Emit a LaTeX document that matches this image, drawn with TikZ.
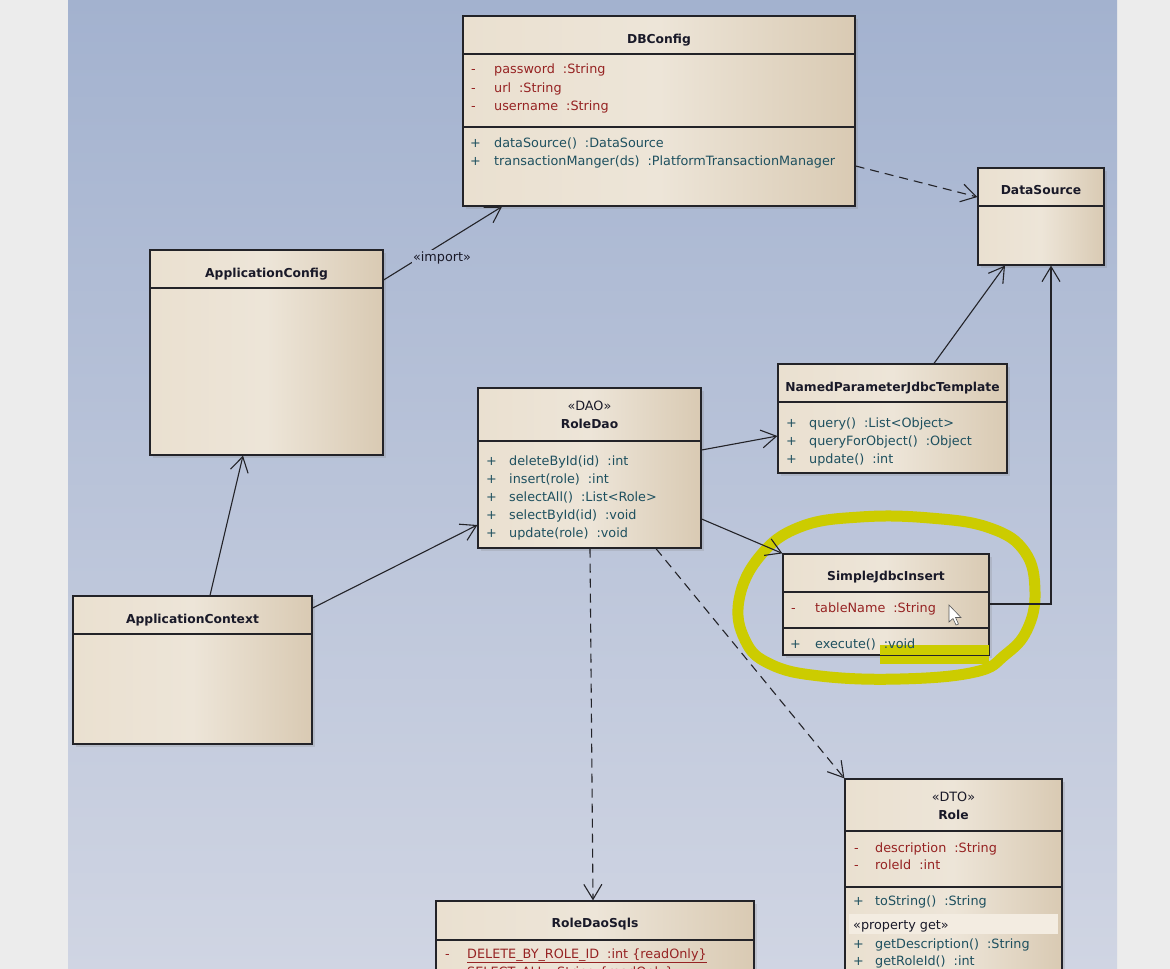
\documentclass[tikz,border=0pt]{standalone}
\usepackage{fontspec}
\setmainfont{DejaVu Sans}
\usepackage{tikz}
\usetikzlibrary{arrows.meta,shapes,positioning,fit,shadows,calc}
\usepackage{xcolor}
\definecolor{PageG}  {RGB}{236,236,236}
\definecolor{BgTop}  {RGB}{163,178,207}
\definecolor{BgMid}  {RGB}{175,187,212}
\definecolor{BgBot}  {RGB}{208,213,227}
\definecolor{BoxL}   {RGB}{234,224,208}
\definecolor{BoxM}   {RGB}{237,229,216}
\definecolor{BoxR}   {RGB}{217,202,179}
\definecolor{BandC}  {RGB}{243,236,225}
\definecolor{LineK}  {RGB}{35,  35,  40}
\definecolor{TitleK} {RGB}{25,  25,  40}
\definecolor{AttrR}  {RGB}{150, 35,  35}
\definecolor{MethT}  {RGB}{30,  80,  95}
\definecolor{HiYlw}  {RGB}{204,204,   0}
\newcommand{\tgap}{\hspace{8pt}}

\begin{document}
\begin{tikzpicture}[x=1pt,y=-1pt,
    cls/.style={draw=LineK,line width=1.2pt,inner sep=0pt,
      left color=BoxL,right color=BoxR,middle color=BoxM,
      drop shadow={shadow xshift=3pt,shadow yshift=-3pt,opacity=0.22}},
    sep/.style={draw=LineK,line width=1.2pt},
    ttl/.style={anchor=base,inner sep=0pt,text=TitleK,
      font=\fontsize{12.3}{14}\selectfont\bfseries},
    ster/.style={anchor=base,inner sep=0pt,text=TitleK,
      font=\fontsize{12.8}{14}\selectfont},
    attr/.style={anchor=base west,inner sep=0pt,text=AttrR,
      font=\fontsize{12.8}{14}\selectfont},
    meth/.style={anchor=base west,inner sep=0pt,text=MethT,
      font=\fontsize{12.8}{14}\selectfont},
    assoc/.style={draw=LineK,line width=1.1pt,
      -{Straight Barb[length=15pt,width=18pt]}},
    dep/.style={assoc,dash pattern=on 9pt off 6pt}]
  % page and canvas
  \useasboundingbox (0,0) rectangle (1170,969);
  \clip (0,0) rectangle (1170,969);
  \fill[PageG] (0,0) rectangle (1170,969);
  \shade[top color=BgTop,bottom color=BgBot] (68,0) rectangle (1117,969);

  % hand drawn highlight
  \draw[HiYlw,line width=11pt,line cap=round,line join=round]
    plot[smooth cycle,tension=0.7] coordinates {(760,556) (800,527) (860,517)
      (930,518) (990,528) (1025,552) (1035,592) (1027,630) (1005,655)
      (975,672) (900,679) (820,676) (770,664) (745,640) (739,600)};

  % DBConfig
  \node[cls,fit={(463,16) (855,206)}] (dbc) {};
  \node[ttl] (dbcT) at (659,43) {DBConfig};
  \draw[sep] (dbc.west |- 0,54) -- (dbc.east |- 0,54);
  \foreach \y/\txt [count=\i] in {73.5/password\tgap:String,
      92/url\tgap:String,110/username\tgap:String}{
    \node[attr] (dbc-s\i) at (471,\y) {-};
    \node[attr] (dbc-a\i) at (494,\y) {\txt};}
  \draw[sep] (dbc.west |- 0,127) -- (dbc.east |- 0,127);
  \foreach \y/\txt [count=\i] in {147/dataSource()\tgap:DataSource,
      165/transactionManger(ds)\tgap:PlatformTransactionManager}{
    \node[meth] (dbc-p\i) at (470,\y) {+};
    \node[meth] (dbc-m\i) at (494,\y) {\txt};}

  % DataSource
  \node[cls,fit={(978,168) (1104,265)}] (ds) {};
  \node[ttl] (dsT) at (1041,194) {DataSource};
  \draw[sep] (ds.west |- 0,206) -- (ds.east |- 0,206);

  % ApplicationConfig
  \node[cls,fit={(150,250) (383,455)}] (appcfg) {};
  \node[ttl] (appcfgT) at (266.5,277) {ApplicationConfig};
  \draw[sep] (appcfg.west |- 0,288) -- (appcfg.east |- 0,288);

  % NamedParameterJdbcTemplate
  \node[cls,fit={(778,364) (1007,473)}] (npjt) {};
  \node[ttl] (npjtT) at (892.5,391) {NamedParameterJdbcTemplate};
  \draw[sep] (npjt.west |- 0,402) -- (npjt.east |- 0,402);
  \foreach \y/\txt [count=\i] in {427/query()\tgap:List<Object>,
      445/queryForObject()\tgap:Object,463/update()\tgap:int}{
    \node[meth] (npjt-p\i) at (786,\y) {+};
    \node[meth] (npjt-m\i) at (809,\y) {\txt};}

  % RoleDao
  \node[cls,fit={(478,388) (701,548)}] (rdao) {};
  \node[ster] (rdaoS) at (589.5,410) {«DAO»};
  \node[ttl] (rdaoT) at (589.5,428) {RoleDao};
  \draw[sep] (rdao.west |- 0,441) -- (rdao.east |- 0,441);
  \foreach \y/\txt [count=\i] in {465/deleteById(id)\tgap:int,
      483.2/insert(role)\tgap:int,501.4/selectAll()\tgap:List<Role>,
      519.6/selectById(id)\tgap:void,537.8/update(role)\tgap:void}{
    \node[meth] (rdao-p\i) at (486,\y) {+};
    \node[meth] (rdao-m\i) at (509,\y) {\txt};}

  % SimpleJdbcInsert
  \node[cls,fit={(783,554) (989,655)}] (sji) {};
  \fill[HiYlw] (880,645) rectangle (989,664);
  \draw[sep] (sji.south west) -- (sji.south east);
  \node[ttl] (sjiT) at (886,580) {SimpleJdbcInsert};
  \draw[sep] (sji.west |- 0,592) -- (sji.east |- 0,592);
  \node[attr] (sji-s1) at (791,612) {-};
  \node[attr] (sji-a1) at (815,612) {tableName\tgap:String};
  \draw[sep] (sji.west |- 0,628) -- (sji.east |- 0,628);
  \node[meth] (sji-p1) at (790,648) {+};
  \node[meth] (sji-m1) at (815,648) {execute()\tgap:void};

  % ApplicationContext
  \node[cls,fit={(73,596) (312,744)}] (actx) {};
  \node[ttl] (actxT) at (192.5,623) {ApplicationContext};
  \draw[sep] (actx.west |- 0,634) -- (actx.east |- 0,634);

  % Role
  \node[cls,fit={(845,779) (1062,1010)}] (role) {};
  \node[ster] (roleS) at (953.5,801) {«DTO»};
  \node[ttl] (roleT) at (953.5,819) {Role};
  \draw[sep] (role.west |- 0,831) -- (role.east |- 0,831);
  \foreach \y/\txt [count=\i] in {852/description\tgap:String,
      869.5/roleId\tgap:int}{
    \node[attr] (role-s\i) at (854,\y) {-};
    \node[attr] (role-a\i) at (875,\y) {\txt};}
  \draw[sep] (role.west |- 0,887) -- (role.east |- 0,887);
  \node[meth] (role-p1) at (853,905) {+};
  \node[meth] (role-m1) at (875,905) {toString()\tgap:String};
  \fill[BandC] (849,914) rectangle (1058,934);
  \node[ster,anchor=base west] (roleG) at (853,929) {«property get»};
  \foreach \y/\txt [count=\i] in {948/getDescription()\tgap:String,
      965/getRoleId()\tgap:int}{
    \node[meth] (role-q\i) at (853,\y) {+};
    \node[meth] (role-g\i) at (875,\y) {\txt};}

  % RoleDaoSqls
  \node[cls,fit={(436,901) (754,1010)}] (rdsql) {};
  \node[ttl] (rdsqlT) at (595,927) {RoleDaoSqls};
  \draw[sep] (rdsql.west |- 0,940) -- (rdsql.east |- 0,940);
  \foreach \y/\txt [count=\i] in {958/DELETE\_BY\_ROLE\_ID\tgap:int \{readOnly\},
      976/SELECT\_ALL\tgap:String \{readOnly\}}{
    \node[attr] (rdsql-s\i) at (445,\y) {-};
    \node[attr] (rdsql-a\i) at (467,\y) {\underline{\txt}};}

  % connectors
  \draw[assoc] (appcfg.east |- 0,280) -- (dbc.south -| 502,0);
  \node[ster,anchor=center,fill=BgMid,inner sep=1.5pt] (imp) at (442,258) {«import»};
  \draw[dep] (dbc.east |- 0,166) -- (ds.west |- 0,197);
  \draw[assoc] (npjt.north -| 934,0) -- (ds.south -| 1005,0);
  \draw[assoc] (sji.east |- 0,604) -| (ds.south -| 1051,0);
  \draw[assoc] (rdao.east |- 0,450) -- (npjt.west |- 0,436);
  \draw[assoc] (rdao.east |- 0,519) -- (sji.north west);
  \draw[assoc] (actx.north -| 210,0) -- (appcfg.south -| 243,0);
  \draw[assoc] (actx.east |- 0,608) -- (rdao.west |- 0,525);
  \draw[dep] (rdao.south -| 590,0) -- (rdsql.north -| 593,0);
  \draw[dep] (rdao.south -| 656,0) -- (role.north west);

  % mouse pointer
  \filldraw[fill=white,draw=black!65,line width=0.6pt] (949,605) -- (949,622)
    -- (953,618.5) -- (956,625) -- (958.5,624) -- (955.5,617.5) -- (961,617.5) -- cycle;
\end{tikzpicture}
\end{document}
